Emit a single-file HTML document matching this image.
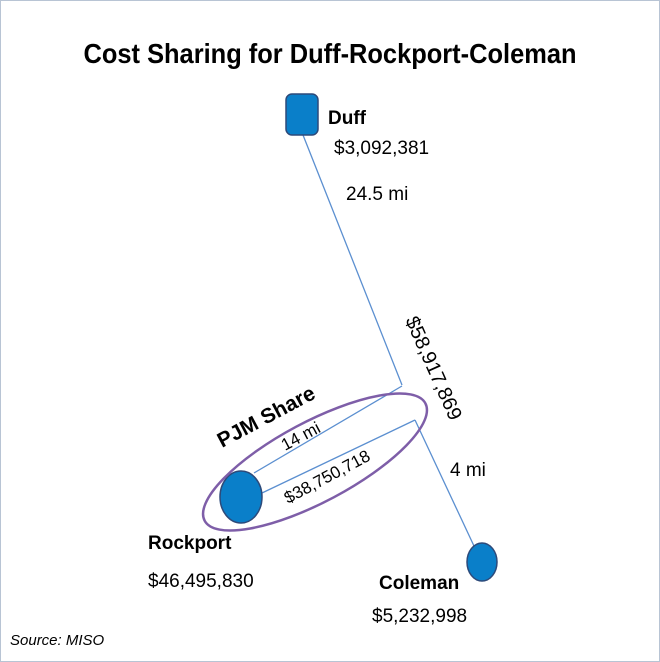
<!DOCTYPE html>
<html><head><style>
body{margin:0;background:#fff}
svg{display:block;font-family:"Liberation Sans",Arial,sans-serif}
</style></head><body>
<svg width="660" height="662" viewBox="0 0 660 662">
<rect x="0.5" y="0.5" width="659" height="661" fill="#fff" stroke="#b8c4d4" stroke-width="1"/>
<text x="330" y="63" text-anchor="middle" font-size="28" font-weight="bold" textLength="493" lengthAdjust="spacingAndGlyphs">Cost Sharing for Duff-Rockport-Coleman</text>
<g stroke="#5b8fd0" stroke-width="1.3" fill="none">
<line x1="303" y1="135" x2="402" y2="385"/>
<line x1="402" y1="386" x2="254" y2="473"/>
<line x1="415" y1="420" x2="262" y2="493"/>
<line x1="415" y1="420" x2="474" y2="546"/>
</g>
<rect x="286" y="94" width="32" height="41" rx="6" fill="#0a7fc9" stroke="#2d4a7a" stroke-width="1.5"/>
<ellipse cx="241" cy="497" rx="21" ry="26" fill="#0a7fc9" stroke="#2d4a7a" stroke-width="1.5"/>
<ellipse cx="482" cy="562" rx="15" ry="19" fill="#0a7fc9" stroke="#2d4a7a" stroke-width="1.5"/>
<ellipse cx="315" cy="462" rx="125" ry="40" transform="rotate(-28 315 462)" fill="none" stroke="#7e5ea8" stroke-width="2.5"/>
<text x="328" y="124" font-size="19" font-weight="bold">Duff</text>
<text x="334" y="154" font-size="19">$3,092,381</text>
<text x="346" y="200" font-size="19">24.5 mi</text>
<text x="405" y="320" font-size="20" transform="rotate(66 405 320)">$58,917,869</text>
<text x="450" y="476" font-size="19">4 mi</text>
<text x="222" y="448" font-size="21" font-weight="bold" transform="rotate(-28 222 448)">PJM Share</text>
<text x="285" y="451" font-size="17" transform="rotate(-28 285 451)">14 mi</text>
<text x="288" y="504" font-size="17" transform="rotate(-28 288 504)">$38,750,718</text>
<text x="148" y="549" font-size="19" font-weight="bold">Rockport</text>
<text x="148" y="587" font-size="19">$46,495,830</text>
<text x="379" y="589" font-size="19" font-weight="bold">Coleman</text>
<text x="372" y="622" font-size="19">$5,232,998</text>
<text x="10" y="645" font-size="15" font-style="italic">Source: MISO</text>
</svg>
</body></html>
